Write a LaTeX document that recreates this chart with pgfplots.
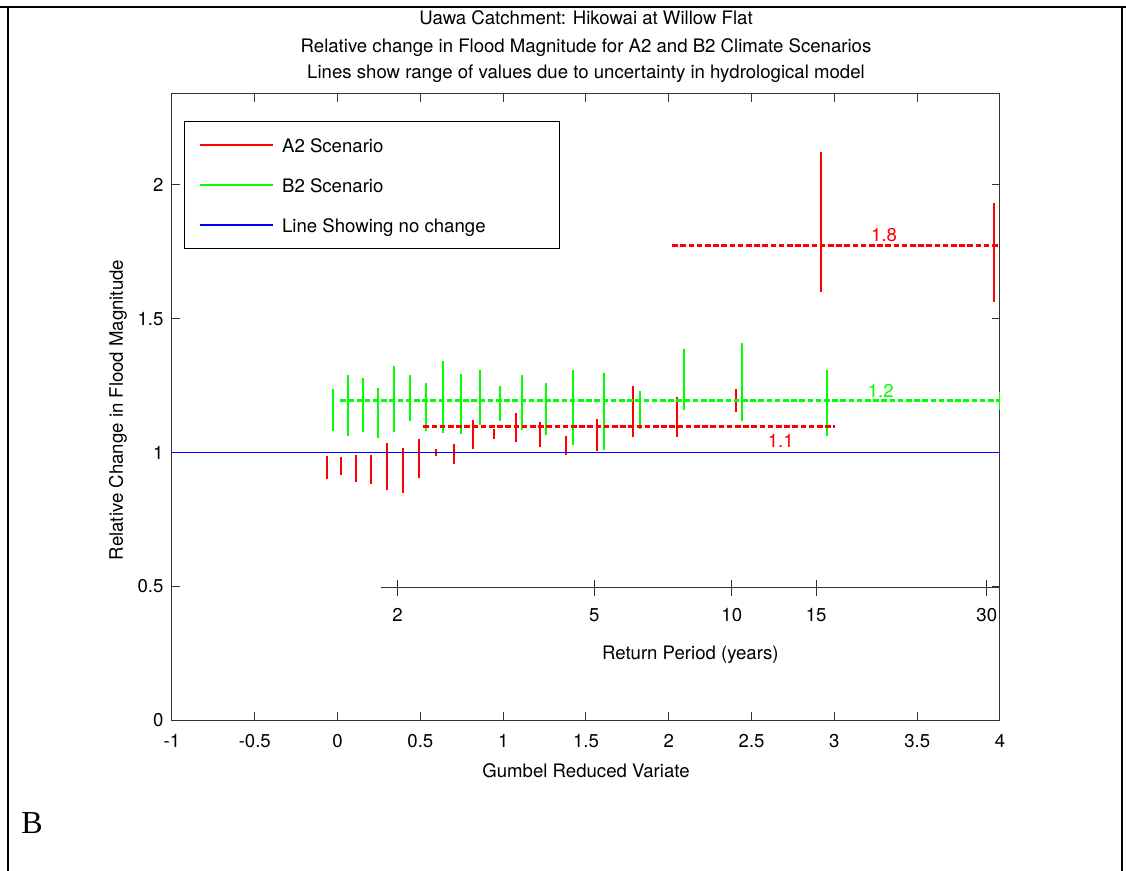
\documentclass[border=0pt]{standalone}
\usepackage{fontspec}
\setmainfont{TeX Gyre Heros}
\newfontfamily\captionfont{Liberation Serif}
\usepackage{pgfplots}
\pgfplotsset{compat=1.18}

\definecolor{scenA}{RGB}{255,0,0}
\definecolor{scenB}{RGB}{0,255,0}
\definecolor{nochange}{RGB}{0,0,255}

\begin{document}
\fontsize{9.3}{11}\selectfont
\begin{tikzpicture}
\useasboundingbox (0pt,0pt) rectangle (563pt,435.5pt);
% page frame
\draw[line width=1.2pt] (0pt,432pt) -- (563pt,432pt);
\draw[line width=1.2pt] (4pt,432pt) -- (4pt,-2pt);
\draw[line width=1.2pt] (561pt,432pt) -- (561pt,-2pt);
\node[font=\fontsize{16}{18}\captionfont] at (16pt,23.8pt) {B};

% titles
\node at (293pt,426.5pt) {Uawa Catchment: Hikowai at Willow Flat};
\node at (293pt,411.5pt) {Relative change in Flood Magnitude for A2 and B2 Climate Scenarios};
\node at (293pt,398.5pt) {Lines show range of values due to uncertainty in hydrological model};

\begin{axis}[
  at={(86pt,75.35pt)}, anchor=south west, scale only axis,
  width=414pt, height=313.15pt,
  xmin=-1, xmax=4, ymin=0, ymax=2.34,
  xtick={-1,-0.5,0,0.5,1,1.5,2,2.5,3,3.5,4},
  xticklabels={-1,-0.5,0,0.5,1,1.5,2,2.5,3,3.5,4},
  ytick={0,0.5,1,1.5,2},
  yticklabels={0,0.5,1,1.5,2},
  tick align=inside, major tick length=4pt,
  axis line style={black!80, line width=0.5pt},
  tick style={black!80, line width=0.5pt},
  xticklabel style={yshift=-3.5pt},
  yticklabel style={xshift=-1pt},
  xlabel={Gumbel Reduced Variate},
  ylabel={Relative Change in Flood Magnitude},
  xlabel style={at={(axis description cs:0.5,-0.0798)}, anchor=center},
  ylabel style={at={(axis description cs:-0.0652,0.4955)}, anchor=center},
  legend style={at={(axis description cs:0.0145,0.957)}, anchor=north west,
    draw=black, line width=0.5pt, fill=white, inner xsep=7.5pt, inner ysep=7.25pt,
    row sep=11pt, column sep=4.25pt,
    nodes={inner sep=0pt, text height=8.5pt, text depth=0.5pt}},
  legend cell align=left,
  legend image code/.code={\draw[#1] (0pt,0pt) -- (36.25pt,0pt);},
]
% A2 scenario: range of each estimate
\addplot[scenA, line width=0.8pt, unbounded coords=jump] coordinates {
(-0.064,0.902) (-0.064,0.988) (-0.064,nan)
(0.021,0.917) (0.021,0.984) (0.021,nan)
(0.112,0.891) (0.112,0.991) (0.112,nan)
(0.202,0.883) (0.202,0.991) (0.202,nan)
(0.299,0.860) (0.299,1.036) (0.299,nan)
(0.396,0.849) (0.396,1.018) (0.396,nan)
(0.493,0.905) (0.493,1.051) (0.493,nan)
(0.595,0.986) (0.595,1.013) (0.595,nan)
(0.704,0.958) (0.704,1.033) (0.704,nan)
(0.819,1.014) (0.819,1.122) (0.819,nan)
(0.946,1.051) (0.946,1.089) (0.946,nan)
(1.079,1.040) (1.079,1.148) (1.079,nan)
(1.224,1.021) (1.224,1.115) (1.224,nan)
(1.381,0.991) (1.381,1.062) (1.381,nan)
(1.568,1.006) (1.568,1.126) (1.568,nan)
(1.785,1.060) (1.785,1.249) (1.785,nan)
(2.051,1.057) (2.051,1.209) (2.051,nan)
(2.407,1.150) (2.407,1.238) (2.407,nan)
(2.920,1.601) (2.920,2.124) (2.920,nan)
(3.965,1.564) (3.965,1.934)
};
\addlegendentry{\makebox[131pt][l]{A2 Scenario}}
% B2 scenario: range of each estimate
\addplot[scenB, line width=0.8pt, unbounded coords=jump] coordinates {
(-0.028,1.081) (-0.028,1.238) (-0.028,nan)
(0.063,1.062) (0.063,1.290) (0.063,nan)
(0.153,1.077) (0.153,1.279) (0.153,nan)
(0.244,1.055) (0.244,1.242) (0.244,nan)
(0.341,1.077) (0.341,1.324) (0.341,nan)
(0.437,1.118) (0.437,1.290) (0.437,nan)
(0.534,1.081) (0.534,1.260) (0.534,nan)
(0.636,1.074) (0.636,1.342) (0.636,nan)
(0.745,1.070) (0.745,1.294) (0.745,nan)
(0.860,1.104) (0.860,1.309) (0.860,nan)
(0.981,1.118) (0.981,1.249) (0.981,nan)
(1.114,1.085) (1.114,1.290) (1.114,nan)
(1.259,1.067) (1.259,1.260) (1.259,nan)
(1.422,1.029) (1.422,1.309) (1.422,nan)
(1.609,1.010) (1.609,1.296) (1.609,nan)
(1.827,1.087) (1.827,1.231) (1.827,nan)
(2.093,1.160) (2.093,1.388) (2.093,nan)
(2.443,1.120) (2.443,1.411) (2.443,nan)
(2.957,1.063) (2.957,1.309) (2.957,nan)
(3.996,1.160) (3.996,1.227)
};
\addlegendentry{\makebox[131pt][l]{B2 Scenario}}
% reference line: no change
\addplot[nochange, line width=0.6pt] coordinates {(-1,1) (4,1)};
\addlegendentry{\makebox[131pt][l]{Line Showing no change}}

% mean changes
\addplot[forget plot, scenA, line width=1.5pt, dash pattern=on 2.8pt off 1.3pt]
  coordinates {(0.518,1.099) (3.004,1.099)};
\addplot[forget plot, scenB, line width=1.5pt, dash pattern=on 2.8pt off 1.3pt]
  coordinates {(0.016,1.196) (4,1.196)};
\addplot[forget plot, scenA, line width=1.5pt, dash pattern=on 2.8pt off 1.3pt]
  coordinates {(2.02,1.775) (4,1.775)};
\node[text=scenA] at (axis cs:3.30,1.813) {1.8};
\node[text=scenB] at (axis cs:3.28,1.232) {1.2};
\node[text=scenA] at (axis cs:2.676,1.044) {1.1};
\end{axis}

% return period scale along the reduced variate
\begin{axis}[
  at={(190.35pt,141.5pt)}, anchor=south west, scale only axis,
  width=309.65pt, height=20pt,
  xmin=0.26, xmax=4, ymin=0, ymax=1,
  axis x line=bottom, axis y line=none,
  x axis line style={-, black!80, line width=0.5pt},
  xtick={0.362,1.55,2.38,2.89,3.92},
  xticklabels={2,5,10,15,30},
  xtick align=center, major tick length=8pt,
  tick style={black!80, line width=0.5pt},
  xticklabel style={anchor=center, yshift=-9.5pt},
  xlabel={Return Period (years)},
  xlabel style={at={(axis description cs:0.5,0)}, anchor=center, yshift=-33.5pt},
]
\end{axis}
\end{tikzpicture}
\end{document}
